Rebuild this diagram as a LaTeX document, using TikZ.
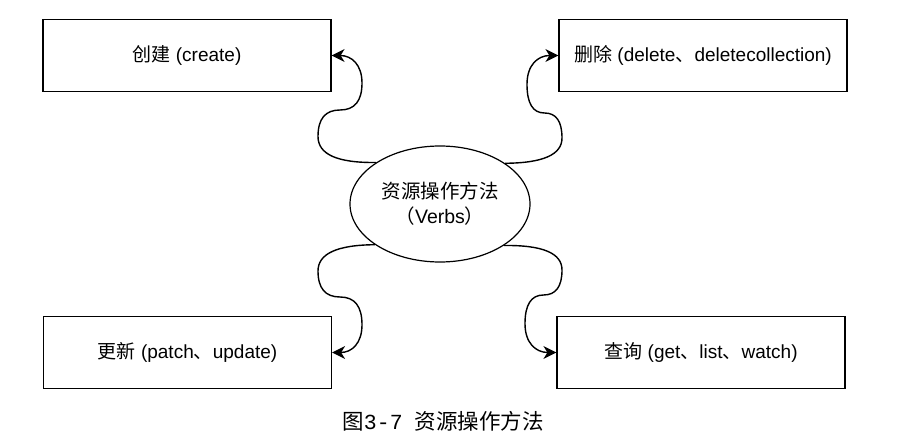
\documentclass[tikz,border=0pt]{standalone}
\usepackage{fontspec}
\setmainfont{Liberation Sans}
\newfontfamily\cjk{Noto Sans CJK SC}
\newfontfamily\capmono{Liberation Mono}
\usetikzlibrary{shapes.geometric,arrows.meta}
\begin{document}
\begin{tikzpicture}[x=1pt,y=-1pt,
  verbbox/.style={draw,line width=1.2pt,minimum width=288pt,minimum height=72pt,
    inner sep=0pt,font=\fontsize{19}{24}\selectfont},
  hub/.style={draw,ellipse,line width=1.2pt,minimum width=180pt,minimum height=116pt,
    inner sep=0pt,align=center,font=\fontsize{19.5}{25}\selectfont},
  conn/.style={line width=1.4pt,-{Stealth[length=13pt,width=13pt,inset=4pt]}}]
\useasboundingbox (0,0) rectangle (908,435);

% central verb node and the four operation groups
\node[hub] (e) at (440,204) {{\cjk 资源操作方法}\\{\cjk （}Verbs{\cjk ）}};
\node[verbbox] (tl) at (187,55.5) {{\cjk 创建} (create)};
\node[verbbox] (tr) at (703,55.5) {{\cjk 删除} (delete{\cjk 、}deletecollection)};
\node[verbbox] (bl) at (187.5,352.5) {{\cjk 更新} (patch{\cjk 、}update)};
\node[verbbox] (br) at (701,352.5) {{\cjk 查询} (get{\cjk 、}list{\cjk 、}watch)};

% curved connectors from the hub to each group
\draw[conn] (e.147.8) .. controls (337,163) and (318,154.2) .. (318,136.5)
  .. controls (318,118.8) and (325.3,110) .. (340,110)
  .. controls (354.7,110) and (362,101) .. (362,83)
  .. controls (362,64.7) and (351.7,55.5) .. (tl.east);
\draw[conn] (e.32.2) .. controls (543,163) and (562,154.7) .. (562,138)
  .. controls (562,121.3) and (556.2,113) .. (544.5,113)
  .. controls (532.8,113) and (527,103.4) .. (527,84.25)
  .. controls (527,65.1) and (537.7,55.5) .. (tr.west);
\draw[conn] (e.212.2) .. controls (337,245) and (318,253.7) .. (318,271)
  .. controls (318,288.3) and (325.3,297) .. (340,297)
  .. controls (354.7,297) and (362,306.25) .. (362,324.75)
  .. controls (362,343.25) and (352,352.5) .. (bl.east);
\draw[conn] (e.327.8) .. controls (543,245) and (562,253.3) .. (562,270)
  .. controls (562,286.7) and (555.8,295) .. (543.5,295)
  .. controls (531.2,295) and (525,304.6) .. (525,323.75)
  .. controls (525,342.9) and (535.7,352.5) .. (br.west);

% figure caption
\node[font=\fontsize{21.5}{26}\selectfont] (cap) at (443,421)
  {{\cjk 图}{\capmono 3-7}\hspace{0.55em}{\cjk 资源操作方法}};
\end{tikzpicture}
\end{document}
